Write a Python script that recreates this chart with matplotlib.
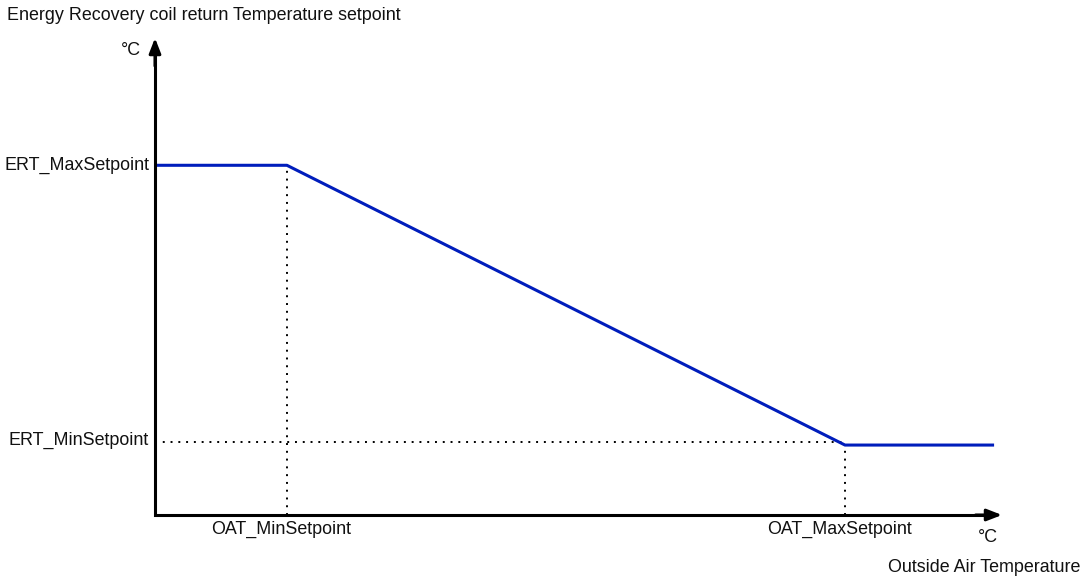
import matplotlib
matplotlib.use("Agg")
from matplotlib import pyplot as plt

plt.rcParams['font.family'] = ['Liberation Sans', 'DejaVu Sans']

# schematic reset curve: outside air temp (x) vs ERT setpoint (y)
oat = [0, 10, 52.3, 63.6]
ert = [25, 25, 5, 5]
oat_min, oat_max = 10, 52.3
ert_min, ert_max = 5, 25
x_end, y_end = 64.2, 34.1

W, H = 1092, 585
fig = plt.figure(figsize=(W / 100, H / 100), dpi=100)
ax = fig.add_axes([155 / W, 70 / H, 847 / W, 477 / H])
ax.set_xlim(0, x_end)
ax.set_ylim(0, y_end)
ax.axis("off")

dot = (0, (1, 3))
ax.plot([0, oat_max], [ert_min + 0.2, ert_min + 0.2], color="black", lw=1.4, ls=dot, clip_on=False)
ax.plot([oat_min, oat_min], [0, ert_max], color="black", lw=1.4, ls=dot, clip_on=False)
ax.plot([oat_max, oat_max], [0, ert_min], color="black", lw=1.4, ls=dot, clip_on=False)

ax.plot(oat, ert, color="#001DBC", lw=2.2, solid_capstyle="butt", clip_on=False, zorder=3)

# axes: corner plus arrow heads
ax.plot([0, 0, x_end - 1], [y_end - 1, 0, 0], color="black", lw=2.2,
        solid_joinstyle="miter", clip_on=False, zorder=4)
arrow = dict(arrowstyle="-|>,head_length=0.9,head_width=0.35", color="black", lw=2.2,
             shrinkA=0, shrinkB=0)
ax.annotate("", xy=(0, y_end), xytext=(0, y_end - 2), arrowprops=arrow, annotation_clip=False)
ax.annotate("", xy=(x_end, 0), xytext=(x_end - 2, 0), arrowprops=arrow, annotation_clip=False)

fs = 12.9
tc = "#111111"
ax.text(-0.4, ert_max, "ERT_MaxSetpoint", ha="right", va="center", fontsize=fs, color=tc)
ax.text(-0.5, ert_min + 0.35, "ERT_MinSetpoint", ha="right", va="center", fontsize=fs, color=tc)
ax.text(oat_min - 0.45, -1.0, "OAT_MinSetpoint", ha="center", va="center", fontsize=fs, color=tc)
ax.text(oat_max - 0.4, -1.0, "OAT_MaxSetpoint", ha="center", va="center", fontsize=fs, color=tc)
ax.text(-1.8, 33.2, "°C", ha="center", va="center", fontsize=fs, color=tc)
ax.text(63.1, -1.6, "°C", ha="center", va="center", fontsize=fs, color=tc)

fig.text(7 / W, 1 - 16 / H, "Energy Recovery coil return Temperature setpoint",
         ha="left", va="center", fontsize=fs, color=tc)
fig.text(1080 / W, 1 - 567 / H, "Outside Air Temperature",
         ha="right", va="center", fontsize=fs, color=tc)

fig.savefig("out.png", dpi=100)
